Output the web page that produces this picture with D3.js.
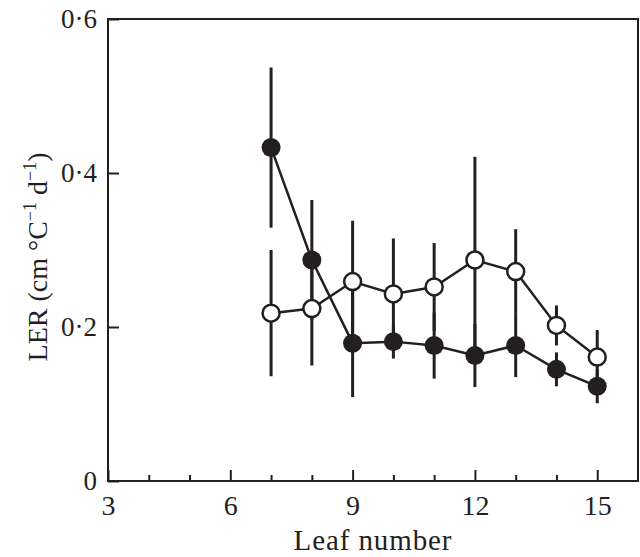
<!DOCTYPE html>
<html>
<head>
<meta charset="utf-8">
<script src="https://cdn.jsdelivr.net/npm/d3@7/dist/d3.min.js"></script>
<style>
  html, body { margin: 0; padding: 0; background: #fff; }
  svg text { font-family: "Liberation Serif", "Times New Roman", serif; fill: #231f20; }
</style>
</head>
<body>
<svg id="chart" width="640" height="557"></svg>
<script>
// ---- data ----
const leafNumbers = [7, 8, 9, 10, 11, 12, 13, 14, 15];
const filledMean = [0.433, 0.287, 0.179, 0.181, 0.176, 0.163, 0.176, 0.145, 0.123];
const filledErr  = [0.104, 0.078, 0.070, 0.022, 0.043, 0.041, 0.041, 0.022, 0.022];
const openMean   = [0.218, 0.224, 0.259, 0.243, 0.252, 0.287, 0.272, 0.202, 0.161];
const openErr    = [0.082, 0.074, 0.079, 0.072, 0.057, 0.134, 0.055, 0.026, 0.035];
const xMajorTicks = [3, 6, 9, 12, 15];
const xMinorTicks = [4, 5, 7, 8, 10, 11, 13, 14];
const yTicks = [0, 0.2, 0.4, 0.6];
const yTickLabels = ["0", "0·2", "0·4", "0·6"];

const ink = "#231f20";
const svg = d3.select("#chart");
const margin = { left: 108, right: 2, top: 19, bottom: 76 };
const W = 640, H = 557;

const x = d3.scaleLinear().domain([3, 16]).range([margin.left, W - margin.right]);
const y = d3.scaleLinear().domain([0, 0.6]).range([H - margin.bottom, margin.top]);

// frame
svg.append("rect")
  .attr("x", x(3)).attr("y", y(0.6))
  .attr("width", x(16) - x(3)).attr("height", y(0) - y(0.6))
  .attr("fill", "none").attr("stroke", ink).attr("stroke-width", 2);

// x axis: major ticks (inward)
const xAxisMajor = d3.axisBottom(x).tickValues(xMajorTicks).tickSizeInner(-11).tickSizeOuter(0).tickPadding(22).tickFormat(d3.format("d"));
const gx = svg.append("g").attr("transform", `translate(0,${y(0)})`).call(xAxisMajor);
gx.select(".domain").remove();
gx.selectAll(".tick line").attr("stroke", ink).attr("stroke-width", 2);
gx.selectAll(".tick text").attr("font-size", 28).attr("dy", "0.71em").attr("y", 14);

const xAxisMinor = d3.axisBottom(x).tickValues(xMinorTicks).tickSizeInner(-6).tickSizeOuter(0).tickFormat("");
const gxm = svg.append("g").attr("transform", `translate(0,${y(0)})`).call(xAxisMinor);
gxm.select(".domain").remove();
gxm.selectAll(".tick line").attr("stroke", ink).attr("stroke-width", 2);

// y axis
const yAxis = d3.axisLeft(y).tickValues(yTicks).tickSizeInner(-11).tickSizeOuter(0).tickPadding(10)
  .tickFormat((d, i) => yTickLabels[i]);
const gy = svg.append("g").attr("transform", `translate(${x(3)},0)`).call(yAxis);
gy.select(".domain").remove();
gy.selectAll(".tick line").attr("stroke", ink).attr("stroke-width", 2);
gy.selectAll(".tick text").attr("font-size", 27).attr("x", -11);

// axis titles
svg.append("text")
  .attr("x", (x(3) + x(16)) / 2).attr("y", 550)
  .attr("text-anchor", "middle").attr("font-size", 29).attr("letter-spacing", 0.9)
  .text("Leaf number");

const yt = svg.append("text")
  .attr("transform", `translate(47,257) rotate(-90)`)
  .attr("text-anchor", "middle").attr("font-size", 28);
yt.append("tspan").text("LER (cm °C");
yt.append("tspan").attr("font-size", 18).attr("dy", -11).text("−1");
yt.append("tspan").attr("dy", 11).text(" d");
yt.append("tspan").attr("font-size", 18).attr("dy", -11).text("−1");
yt.append("tspan").attr("dy", 11).text(")");

// series
const filled = leafNumbers.map((l, i) => ({ l, m: filledMean[i], e: filledErr[i] }));
const open = leafNumbers.map((l, i) => ({ l, m: openMean[i], e: openErr[i] }));

const line = d3.line().x(d => x(d.l)).y(d => y(d.m));

[filled, open].forEach(series => {
  svg.append("g").selectAll("line").data(series).join("line")
    .attr("x1", d => x(d.l)).attr("x2", d => x(d.l))
    .attr("y1", d => y(d.m - d.e)).attr("y2", d => y(d.m + d.e))
    .attr("stroke", ink).attr("stroke-width", 3);
});

svg.append("path").datum(filled).attr("d", line)
  .attr("fill", "none").attr("stroke", ink).attr("stroke-width", 2.5);
svg.append("path").datum(open).attr("d", line)
  .attr("fill", "none").attr("stroke", ink).attr("stroke-width", 2.5);

svg.append("g").selectAll("circle").data(filled).join("circle")
  .attr("cx", d => x(d.l)).attr("cy", d => y(d.m)).attr("r", 9.5)
  .attr("fill", ink);
svg.append("g").selectAll("circle").data(open).join("circle")
  .attr("cx", d => x(d.l)).attr("cy", d => y(d.m)).attr("r", 8.5)
  .attr("fill", "#fff").attr("stroke", ink).attr("stroke-width", 2.5);
</script>
</body>
</html>
